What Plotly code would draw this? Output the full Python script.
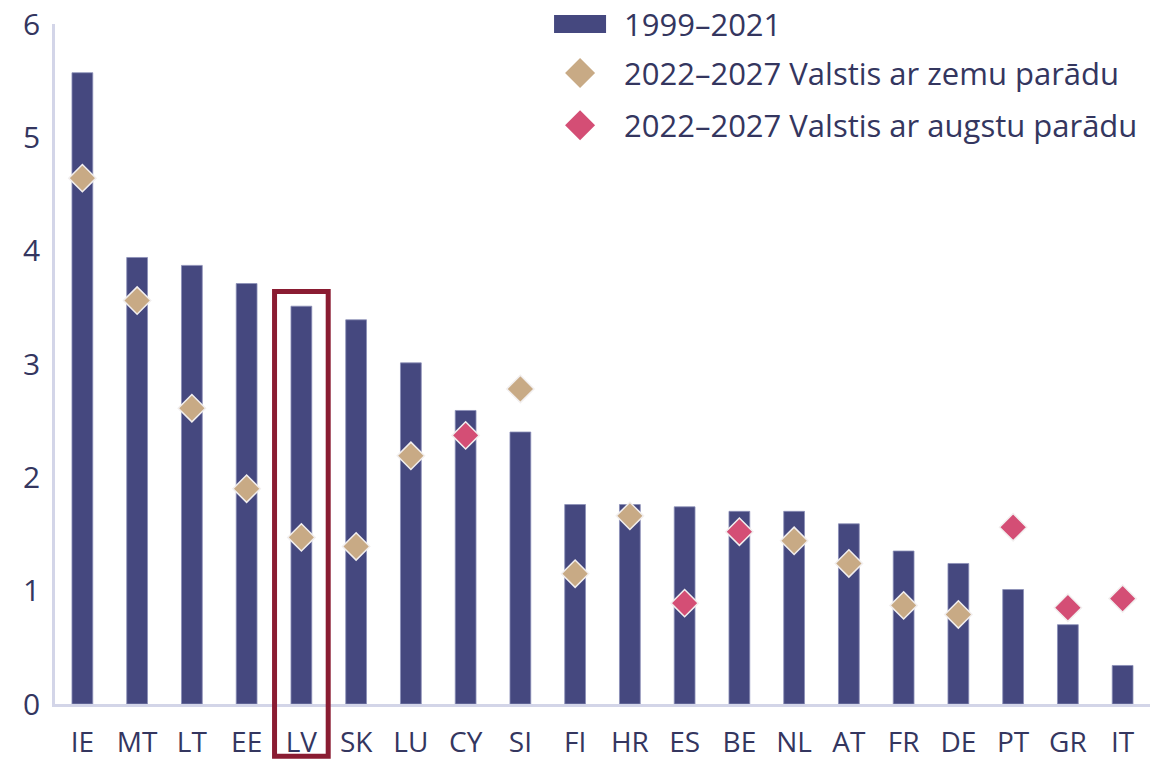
import plotly.graph_objects as go

countries = ["IE", "MT", "LT", "EE", "LV", "SK", "LU", "CY", "SI", "FI",
             "HR", "ES", "BE", "NL", "AT", "FR", "DE", "PT", "GR", "IT"]
hist_1999_2021 = [5.57, 3.94, 3.87, 3.71, 3.51, 3.39, 3.01, 2.59, 2.40, 1.76,
                  1.76, 1.74, 1.70, 1.70, 1.59, 1.35, 1.24, 1.01, 0.70, 0.34]
proj_2022_2027 = [4.64, 3.56, 2.61, 1.90, 1.47, 1.39, 2.19, 2.37, 2.78, 1.15,
                  1.66, 0.89, 1.52, 1.44, 1.24, 0.87, 0.79, 1.56, 0.85, 0.93]
high_debt = ["CY", "ES", "BE", "PT", "GR", "IT"]
highlight = "LV"

legend_names = ["1999–2021",
                "2022–2027 Valstis ar zemu parādu",
                "2022–2027 Valstis ar augstu parādu"]

NAVY = "#45487F"
TAN = "#C8AA85"
PINK = "#D44E75"
RED = "#8A1C32"
AXIS = "#D3D5E8"
TEXT = "#34365F"
FONT = "Open Sans"

low_x = [c for c in countries if c not in high_debt]
low_y = [v for c, v in zip(countries, proj_2022_2027) if c not in high_debt]
hi_x = [c for c in countries if c in high_debt]
hi_y = [v for c, v in zip(countries, proj_2022_2027) if c in high_debt]

fig = go.Figure()
fig.add_trace(go.Bar(x=countries, y=hist_1999_2021, name=legend_names[0],
                     marker=dict(color=NAVY, line=dict(color="#8C8FB8", width=0.8)),
                     width=0.38))
fig.add_trace(go.Scatter(x=low_x, y=low_y, mode="markers", name=legend_names[1],
                         marker=dict(symbol="diamond", size=21, color=TAN,
                                     line=dict(color="#F2EFEF", width=1.5))))
fig.add_trace(go.Scatter(x=hi_x, y=hi_y, mode="markers", name=legend_names[2],
                         marker=dict(symbol="diamond", size=21, color=PINK,
                                     line=dict(color="#F2EFEF", width=1.5))))

y_max = 6
n = len(countries)
idx = countries.index(highlight)
half_w = 0.49
lv_val = hist_1999_2021[idx]
fig.add_shape(type="rect", xref="x domain", yref="paper",
              x0=(idx + 0.5 - half_w) / n, x1=(idx + 0.5 + half_w) / n,
              y0=-0.077, y1=(lv_val + 0.13) / y_max,
              line=dict(color=RED, width=5), fillcolor="rgba(0,0,0,0)")

# custom legend
leg_x_sym = 0.4795   # paper x of symbol centre
leg_x_text = 0.5205
leg_rows = [1.0, 0.928, 0.851]
leg_colors = [NAVY, TAN, PINK]
for i, (name, col, yy) in enumerate(zip(legend_names, leg_colors, leg_rows)):
    if i == 0:
        fig.add_shape(type="rect", xref="paper", yref="paper",
                      xsizemode="pixel", ysizemode="pixel",
                      xanchor=leg_x_sym, yanchor=yy,
                      x0=-26, x1=26, y0=-9, y1=9,
                      fillcolor=col, line=dict(width=0))
    else:
        fig.add_shape(type="path", xref="paper", yref="paper",
                      xsizemode="pixel", ysizemode="pixel",
                      xanchor=leg_x_sym, yanchor=yy,
                      path="M -15 0 L 0 15 L 15 0 L 0 -15 Z",
                      fillcolor=col, line=dict(width=0))
    fig.add_annotation(x=leg_x_text, y=yy, xref="paper", yref="paper",
                       text=name, showarrow=False, xanchor="left", yanchor="middle",
                       xshift=-3,
                       font=dict(family=FONT, size=31, color=TEXT))

fig.update_layout(
    width=1176, height=759,
    margin=dict(l=55, r=26, t=24, b=55),
    paper_bgcolor="white", plot_bgcolor="white",
    showlegend=False,
    font=dict(family=FONT, size=28, color=TEXT),
    bargap=0.62,
)
fig.update_xaxes(range=[-0.5, n - 0.5], automargin=False,
                 showgrid=False, showline=True, linecolor=AXIS, linewidth=2.5,
                 ticks="", ticklabelstandoff=12,
                 tickfont=dict(family=FONT, size=28, color=TEXT))
fig.update_yaxes(range=[0, y_max], dtick=1, automargin=False,
                 showgrid=False, zeroline=False,
                 showline=True, linecolor=AXIS, linewidth=2.5,
                 ticks="", ticklabelstandoff=6,
                 tickfont=dict(family=FONT, size=30, color=TEXT))

fig.write_html("out.html",
               config={"displayModeBar": False},
               post_script="document.body.style.margin='0';document.body.style.padding='0';")
